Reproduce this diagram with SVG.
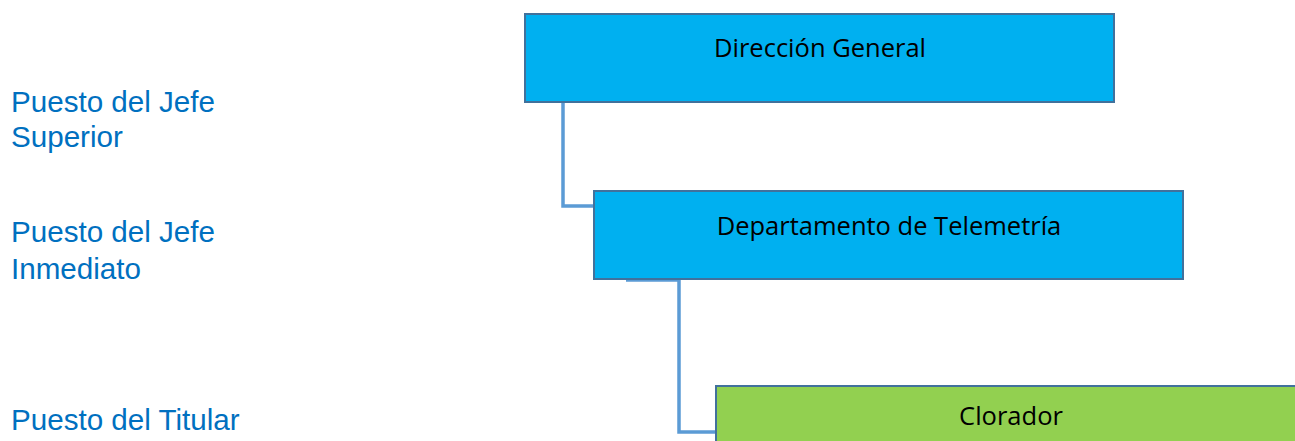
<svg xmlns="http://www.w3.org/2000/svg" width="1295" height="441" viewBox="0 0 1295 441">
<style>
.lbl{font-family:"Liberation Sans",Arial,sans-serif;font-size:29.6px;fill:#0070C0}
.box{stroke:#41719C;stroke-width:2}
.blue{fill:#00B0F0}
.green{fill:#92D050}
.t{font-family:"Open Sans","Noto Sans",sans-serif;font-size:25.5px;fill:#000;text-anchor:middle}
.conn{fill:none;stroke:#5B9BD5;stroke-width:3.5}
</style>
<rect width="1295" height="441" fill="#fff"/>
<g id="labels">
<text class="lbl" x="11" y="112">Puesto del Jefe</text>
<text class="lbl" x="11" y="147">Superior</text>
<text class="lbl" x="11" y="242">Puesto del Jefe</text>
<text class="lbl" x="11" y="279">Inmediato</text>
<text class="lbl" x="11" y="430">Puesto del Titular</text>
</g>
<g id="connectors">
<path class="conn" d="M563 102 V206 H595"/>
<path class="conn" d="M626 280 H679 V432 H717"/>
</g>
<g id="node-direccion">
<rect class="box blue" x="525" y="14" width="589" height="88"/>
<text class="t" x="820" y="57">Dirección General</text>
</g>
<g id="node-telemetria">
<rect class="box blue" x="594" y="191" width="589" height="88"/>
<text class="t" x="889" y="235">Departamento de Telemetría</text>
</g>
<g id="node-clorador">
<rect class="box green" x="716" y="386" width="600" height="80"/>
<text class="t" x="1011" y="425">Clorador</text>
</g>
</svg>
